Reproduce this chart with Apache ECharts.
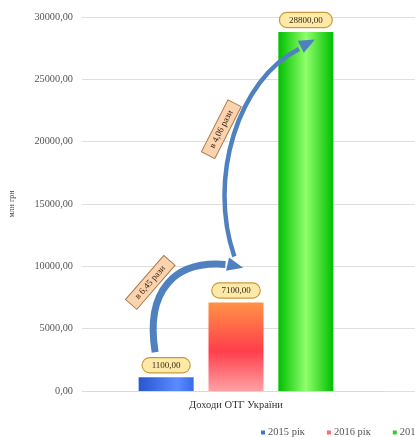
<!DOCTYPE html>
<html>
<head>
<meta charset="utf-8">
<script src="https://cdn.jsdelivr.net/npm/echarts@6/dist/echarts.min.js"></script>
<style>html,body{margin:0;padding:0;background:#fff;}#c{width:415px;height:437px;}</style>
</head>
<body>
<div id="c"></div>
<script>
var categories = ['Доходи ОТГ України'];
var seriesNames = ['2015 рік', '2016 рік', '2017 рік'];
var values2015 = [1100];
var values2016 = [7100];
var values2017 = [28800];
var yTickLabels = ['0,00', '5000,00', '10000,00', '15000,00', '20000,00', '25000,00', '30000,00'];
var ratioLabels = ['в 6,45 рази', 'в 4,06 рази'];
var yAxisName = 'млн грн';

var FONT = '"Liberation Serif", "DejaVu Serif", serif';

function fmt(v) { return v.toFixed(2).replace('.', ','); }

var barLabel = {
  show: true, position: 'top', distance: 5,
  formatter: function (p) { return fmt(p.value); },
  fontFamily: FONT, fontSize: 9, color: '#3a2a10',
  backgroundColor: '#fde9a8', borderColor: '#c99a3a', borderWidth: 1.2,
  borderRadius: 10, padding: [3, 9, 2, 9]
};

var colors = [
  new echarts.graphic.LinearGradient(0, 0, 1, 0, [
    {offset: 0, color: '#2a55d0'}, {offset: 0.7, color: '#5a8cff'}, {offset: 1, color: '#3b6ae8'}]),
  new echarts.graphic.LinearGradient(0, 0, 0, 1, [
    {offset: 0, color: '#ff9346'}, {offset: 0.55, color: '#ff3e4c'}, {offset: 1, color: '#ffa2a4'}]),
  new echarts.graphic.LinearGradient(0, 0, 1, 0, [
    {offset: 0, color: '#00bf00'}, {offset: 0.5, color: '#8fff6c'}, {offset: 1, color: '#00bf00'}])
];
var legendColors = ['#4472c4', '#ff6a6a', '#2ecc2e'];
var seriesValues = [values2015, values2016, values2017];

var chart = echarts.init(document.getElementById('c'), null, {renderer: 'canvas'});
var yMax = 30000, yStep = 5000;

var option = {
  animation: false,
  backgroundColor: '#ffffff',
  grid: [
    {left: 82, right: 30, top: 17, bottom: 46},
    {left: 82, right: 0, top: 17, bottom: 46, z: 0}
  ],
  legend: {
    left: 256, top: 422, width: 400, itemGap: 22,
    icon: 'rect', itemWidth: 4, itemHeight: 4,
    textStyle: {fontFamily: FONT, fontSize: 10.5, color: '#555', padding: [0, 0, 0, -2]},
    data: seriesNames.map(function (n, i) { return {name: n, itemStyle: {color: legendColors[i]}}; })
  },
  xAxis: [
    {type: 'category', gridIndex: 0, data: categories,
      axisLine: {show: true, lineStyle: {color: '#d9d9d9'}}, axisTick: {show: false},
      axisLabel: {fontFamily: FONT, fontSize: 10.5, color: '#333', margin: 9}},
    {type: 'category', gridIndex: 1, data: categories, show: false}
  ],
  yAxis: [
    {type: 'value', gridIndex: 0, min: 0, max: yMax, interval: yStep,
      name: yAxisName, nameLocation: 'middle', nameGap: 71, nameRotate: 90,
      nameTextStyle: {fontFamily: FONT, fontSize: 8, color: '#444'},
      axisLine: {show: false}, axisTick: {show: false}, splitLine: {show: false},
      axisLabel: {fontFamily: FONT, fontSize: 10.3, color: '#555', margin: 14,
        formatter: function (v) { return yTickLabels[Math.round(v / yStep)]; }}},
    {type: 'value', gridIndex: 1, min: 0, max: yMax, interval: yStep,
      axisLine: {show: false}, axisTick: {show: false}, axisLabel: {show: false},
      splitLine: {show: true, lineStyle: {color: '#dedede', width: 1}}}
  ],
  series: seriesNames.map(function (n, i) {
    return {
      name: n, type: 'bar', xAxisIndex: 0, yAxisIndex: 0,
      data: seriesValues[i], barWidth: 55, barGap: '27%',
      itemStyle: {color: colors[i]}, label: barLabel, z: 3
    };
  })
};
chart.setOption(option);

function layoutOf(i) {
  try {
    var l = chart.getModel().getSeriesByIndex(i).getData().getItemLayout(0);
    if (l) {
      var top = Math.min(l.y, l.y + l.height);
      return {x: l.x, w: l.width, top: top};
    }
  } catch (e) {}
  var p = chart.convertToPixel({seriesIndex: i}, [0, seriesValues[i][0]]);
  var offs = [-70, 0, 70];
  return {x: p[0] + offs[i] - 27.5, w: 55, top: p[1]};
}

var b0 = layoutOf(0), b1 = layoutOf(1), b2 = layoutOf(2);
var ARROW = '#4f80c0';

function arrowHead(x, y, angle, size) {
  var a = angle, s = size;
  var pts = [
    [x + Math.cos(a) * s, y + Math.sin(a) * s],
    [x + Math.cos(a + 2.3) * s * 0.9, y + Math.sin(a + 2.3) * s * 0.9],
    [x + Math.cos(a - 2.3) * s * 0.9, y + Math.sin(a - 2.3) * s * 0.9]
  ];
  return {type: 'polygon', shape: {points: pts}, style: {fill: ARROW}, z: 10};
}

// arrow 1: from above 2015 label to 2016 bar
var a1s = [b0.x + b0.w * 0.3, b0.top - 25];
var a1e = [b1.x + b1.w * 0.38, b1.top - 38];
var a1c1 = [a1s[0] - 10, a1s[1] - 62];
var a1c2 = [a1e[0] - 55, a1e[1] - 4];
// arrow 2: from 2016 up to 2017 bar top
var a2s = [b1.x + b1.w * 0.47, b1.top - 46];
var a2e = [b2.x + b2.w * 0.45, b2.top + 14];
var a2c1 = [a2s[0] - 27, a2s[1] - 78];
var a2c2 = [a2e[0] - 65, a2e[1] + 33];

function ang(from, to) { return Math.atan2(to[1] - from[1], to[0] - from[0]); }

var graphics = [
  {type: 'bezierCurve', shape: {x1: a1s[0], y1: a1s[1], x2: a1e[0] - 4, y2: a1e[1], cpx1: a1c1[0], cpy1: a1c1[1], cpx2: a1c2[0], cpy2: a1c2[1]},
    style: {stroke: ARROW, lineWidth: 7, fill: null, lineCap: 'butt'}, z: 10},
  arrowHead(a1e[0] + 4, a1e[1] + 1, ang(a1c2, a1e) + 0.15, 10),
  {type: 'bezierCurve', shape: {x1: a2s[0], y1: a2s[1], x2: a2e[0] - 4, y2: a2e[1] + 3, cpx1: a2c1[0], cpy1: a2c1[1], cpx2: a2c2[0], cpy2: a2c2[1]},
    style: {stroke: ARROW, lineWidth: 4.5, fill: null}, z: 10},
  arrowHead(a2e[0] + 3, a2e[1] - 2, ang(a2c2, a2e), 10),
  {type: 'text', x: (a1s[0] + a1e[0]) / 2 - 42, y: (a1s[1] + a1e[1]) / 2 - 26, rotation: 49 * Math.PI / 180,
    style: {text: ratioLabels[0], fontFamily: FONT, fontSize: 9, fill: '#3a2510', align: 'center', verticalAlign: 'middle',
      backgroundColor: '#fbd3ae', borderColor: '#b07a48', borderWidth: 1, padding: [3, 8, 2, 8]}, z: 12},
  {type: 'text', x: a2s[0] - 13, y: (a2s[1] + a2e[1]) / 2 - 22, rotation: 63 * Math.PI / 180,
    style: {text: ratioLabels[1], fontFamily: FONT, fontSize: 9, fill: '#3a2510', align: 'center', verticalAlign: 'middle',
      backgroundColor: '#fbd3ae', borderColor: '#b07a48', borderWidth: 1, padding: [3, 8, 2, 8]}, z: 12}
];
chart.setOption({graphic: graphics});
</script>
</body>
</html>
